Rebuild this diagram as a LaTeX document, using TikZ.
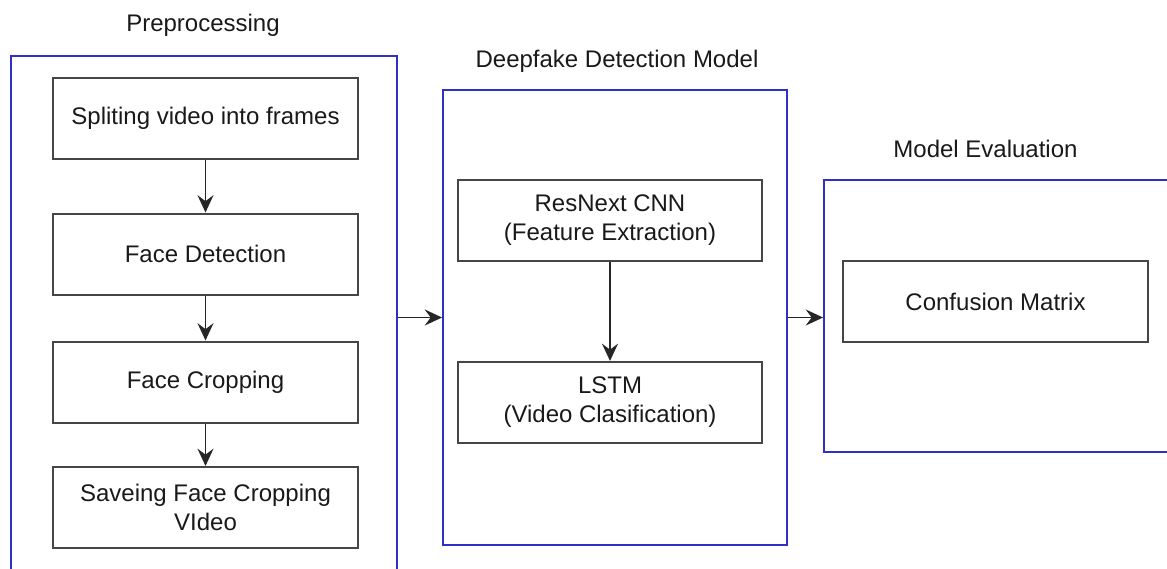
\documentclass[tikz,border=0pt]{standalone}
\usepackage{fontspec}
\setmainfont{Liberation Sans}
\usetikzlibrary{arrows.meta}
\definecolor{frameblue}{RGB}{48,48,200}
\definecolor{boxgray}{RGB}{70,70,70}
\definecolor{txt}{RGB}{25,25,25}
\begin{document}
\begin{tikzpicture}[x=0.75pt,y=-0.75pt,
  font=\fontsize{18}{21.8}\selectfont,
  container/.style={draw=frameblue,line width=1.4pt,rectangle,inner sep=0pt},
  stepbox/.style={draw=boxgray,line width=1.5pt,rectangle,inner sep=0pt,minimum width=228.75pt,minimum height=60.75pt,align=center,text=txt},
  titletext/.style={inner sep=0pt,text=txt},
  arr/.style={-{Stealth[length=13pt,width=12pt,inset=4.5pt]},line width=1.4pt,black!85}]
\useasboundingbox (0,0) rectangle (1167,568);
\clip (0,0) rectangle (1167,568);

% containers
\node[container,minimum width=289.5pt,minimum height=393pt] (prep) at (204,318) {};
\node[container,minimum width=258pt,minimum height=341.25pt] (deep) at (615,317.5) {};
\node[container,minimum width=267pt,minimum height=204pt] (eval) at (1002,316) {};

% titles
\node[titletext] (tprep) at (203,25) {Preprocessing};
\node[titletext] (tdeep) at (617,61) {Deepfake Detection Model};
\node[titletext] (teval) at (985.5,149) {Model Evaluation};

% preprocessing steps
\node[stepbox] (b1) at (205.5,118.5) {Spliting video into frames};
\node[stepbox] (b2) at (205.5,254) {Face Detection};
\node[stepbox] (b3) at (205.5,382) {Face Cropping};
\node[stepbox] (b4) at (205.5,507.5) {Saveing Face Cropping\\VIdeo};

% model
\node[stepbox,minimum width=228pt] (res) at (610,220) {ResNext CNN\\(Feature Extraction)};
\node[stepbox,minimum width=228pt] (lstm) at (610,402.5) {LSTM\\(Video Clasification)};

% evaluation
\node[stepbox] (cm) at (995.5,301.5) {Confusion Matrix};

% connectors
\draw[arr] (b1) -- (b2);
\draw[arr] (b2) -- (b3);
\draw[arr] (b3) -- (b4);
\draw[arr] (res) -- (lstm);
\draw[arr] (deep.west -| prep.east) -- (deep.west);
\draw[arr] (deep.east) -- (deep.east -| eval.west);
\end{tikzpicture}
\end{document}
